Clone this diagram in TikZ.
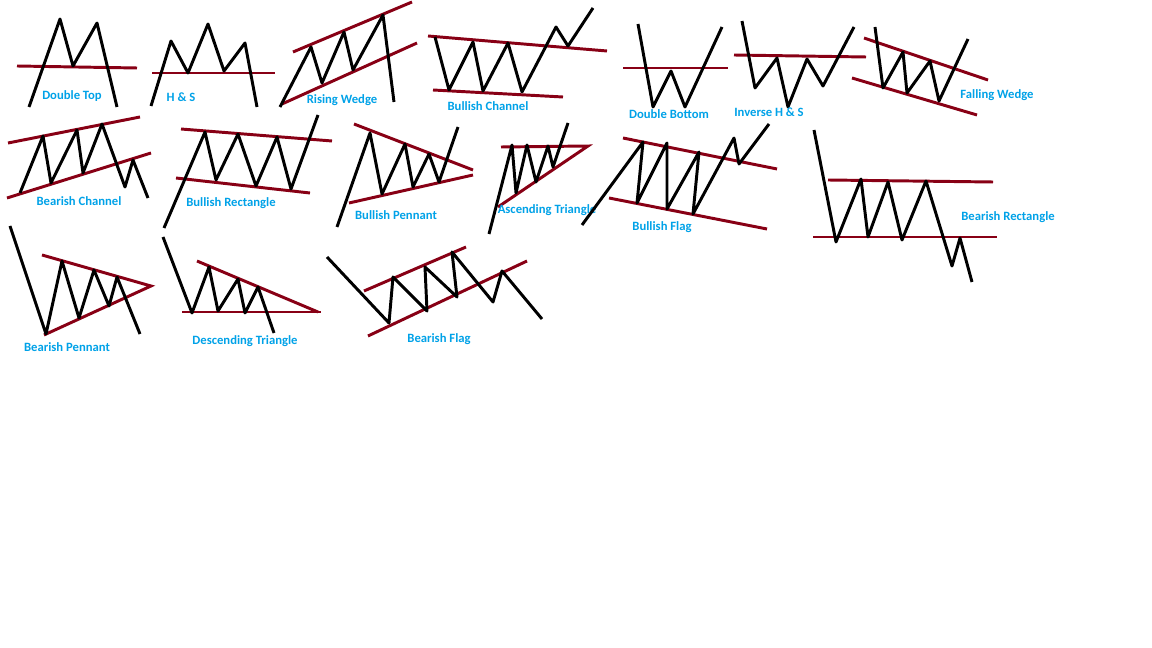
\documentclass[tikz,border=0pt]{standalone}
\usepackage{fontspec}
\setmainfont{Carlito}
\usepackage{tikz}
\definecolor{trendred}{RGB}{136,0,21}
\definecolor{labelblue}{RGB}{0,162,232}
\tikzset{
  price/.style={line width=2.1pt, color=black, line join=round},
  trend/.style={line width=2.1pt, color=trendred},
  tag/.style={font=\fontsize{9}{10}\selectfont\bfseries, text=labelblue, inner sep=0pt}
}

\begin{document}
\begin{tikzpicture}[x=0.025cm, y=-0.025cm]
  \useasboundingbox[fill=white] (0,0) rectangle (1152,648);

  % ── Row 1: Double Top, H & S, Rising Wedge, Bullish Channel ──────────────
  \draw[trend] (17,66) -- (137,68);
  \draw[price] (29,107) -- (60,19) -- (73,66) -- (97,23) -- (117,107);
  \node[tag] (dtop) at (72,96) {Double Top};

  \draw[trend] (152,73) -- (275,73);
  \draw[price] (151,106) -- (171,41) -- (188,73) -- (208,24) -- (224,71)
    -- (245,43) -- (257,107);
  \node[tag] (hs) at (181,97) {H \& S};

  \draw[trend] (293,52) -- (412,2);
  \draw[trend] (282,104) -- (417,43);
  \draw[price] (280,107) -- (311,47) -- (322,83) -- (344,32) -- (353,70)
    -- (383,15) -- (394,102);
  \node[tag] (rwedge) at (342,100) {Rising Wedge};

  \draw[trend] (428,36) -- (607,51);
  \draw[trend] (433,90) -- (563,97);
  \draw[price] (435,37) -- (449,90) -- (473,42) -- (483,91) -- (508,43)
    -- (522,92) -- (556,27) -- (568,46) -- (593,8);
  \node[tag] (bchan) at (488,106) {Bullish Channel};

  % ── Row 1 (right): Double Bottom, Inverse H & S, Falling Wedge ───────────
  \draw[trend] (623,68) -- (728,68);
  \draw[price] (638,24) -- (653,107) -- (671,71) -- (685,107) -- (722,27);
  \node[tag] (dbot) at (669,114) {Double Bottom};

  \draw[trend] (734,55) -- (866,57);
  \draw[price] (742,21) -- (755,88) -- (777,58) -- (788,107) -- (807,59)
    -- (823,86) -- (854,27);
  \node[tag] (ihs) at (769,112) {Inverse H \& S};

  \draw[trend] (864,38) -- (988,80);
  \draw[trend] (852,78) -- (977,115);
  \draw[price] (875,27) -- (883,88) -- (903,52) -- (907,93) -- (930,61)
    -- (939,101) -- (968,39);
  \node[tag] (fwedge) at (997,95) {Falling Wedge};

  % ── Row 2: channels, rectangles, pennant, triangle, flag ─────────────────
  \draw[trend] (8,143) -- (140,117);
  \draw[trend] (7,198) -- (151,153);
  \draw[price] (20,193) -- (43,136) -- (51,183) -- (77,130) -- (83,173)
    -- (102,124) -- (125,187) -- (133,160) -- (148,198);
  \node[tag] (rchan) at (79,201) {Bearish Channel};

  \draw[trend] (181,129) -- (332,141);
  \draw[trend] (176,178) -- (310,193);
  \draw[price] (164,228) -- (205,132) -- (216,180) -- (238,134) -- (256,186)
    -- (277,137) -- (291,189) -- (318,115);
  \node[tag] (brect) at (231,203) {Bullish Rectangle};

  \draw[trend] (354,124) -- (473,170);
  \draw[trend] (349,203) -- (473,175);
  \draw[price] (337,227) -- (370,133) -- (382,194) -- (405,144) -- (413,187)
    -- (429,154) -- (439,182) -- (458,127);
  \node[tag] (bpenn) at (396,215) {Bullish Pennant};

  \draw[trend] (501,147) -- (588,146) -- (498,207);
  \draw[price] (489,234) -- (512,145) -- (516,193) -- (527,145) -- (536,182)
    -- (548,146) -- (553,167) -- (568,123);
  \node[tag] (atri) at (547,210) {Ascending Triangle};

  \draw[trend] (623,138) -- (777,169);
  \draw[trend] (609,198) -- (767,229);
  \draw[price] (582,225) -- (643,142) -- (637,203) -- (667,143) -- (667,209)
    -- (699,152) -- (693,214) -- (734,138) -- (739,164) -- (769,124);
  \node[tag] (bflag) at (662,227) {Bullish Flag};

  \draw[trend] (828,180) -- (993,182);
  \draw[trend] (813,237) -- (997,237);
  \draw[price] (814,130) -- (836,242) -- (861,179) -- (868,237) -- (888,182)
    -- (902,240) -- (926,181) -- (952,266) -- (960,238) -- (972,282);
  \node[tag] (rrect) at (1008,217) {Bearish Rectangle};

  % ── Row 3: Bearish Pennant, Descending Triangle, Bearish Flag ────────────
  \draw[trend] (42,255) -- (151,286) -- (44,335);
  \draw[price] (10,226) -- (46,334) -- (62,261) -- (79,318) -- (94,270)
    -- (109,306) -- (117,277) -- (140,334);
  \node[tag] (rpenn) at (67,347) {Bearish Pennant};

  \draw[trend] (197,261) -- (318,312);
  \draw[trend] (182,312) -- (321,312);
  \draw[price] (163,237) -- (192,313) -- (209,267) -- (218,311) -- (238,279)
    -- (245,313) -- (258,287) -- (274,333);
  \node[tag] (dtri) at (245,341) {Descending Triangle};

  \draw[trend] (364,291) -- (466,247);
  \draw[trend] (368,336) -- (527,261);
  \draw[price] (327,257) -- (389,323) -- (393,277) -- (427,311) -- (425,267)
    -- (457,297) -- (452,252) -- (493,302) -- (502,271) -- (542,319);
  \node[tag] (rflag) at (439,339) {Bearish Flag};
\end{tikzpicture}
\end{document}
